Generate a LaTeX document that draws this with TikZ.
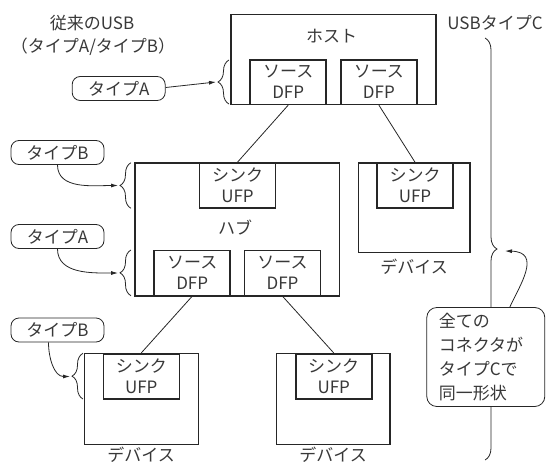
\documentclass[tikz,border=0pt]{standalone}
\usepackage{fontspec}
\setmainfont{Noto Sans CJK JP}
\usetikzlibrary{decorations.pathreplacing,arrows.meta}
\definecolor{ln}{gray}{0.15}
\definecolor{txt}{gray}{0.22}
\begin{document}
\begin{tikzpicture}[x=1pt,y=-1pt,
  every node/.style={font=\fontsize{17}{21}\selectfont, text=txt},
  outer/.style={draw=ln, line width=1.6pt, inner sep=0pt},
  innerbox/.style={draw=ln, fill=white, line width=1.6pt, minimum width=76pt, minimum height=45pt, align=center, inner sep=0pt},
  tag/.style={draw=ln, rounded corners=8pt, line width=0.8pt, minimum width=93pt, minimum height=24pt, inner sep=0pt},
  conn/.style={draw=ln, line width=0.8pt},
  br/.style={draw=ln, line width=0.8pt, decorate, decoration={brace, amplitude=#1}},
  arr/.style={draw=ln, line width=0.8pt, -{Latex[length=7pt,width=4pt]}},
]
\useasboundingbox (0,0) rectangle (554,463);

% titles
\node (t1) at (92,23) {従来のUSB};
\node (t2) at (93,47) {（タイプA/タイプB）};
\node (tc) at (495,23) {USBタイプC};

% host
\node[outer, minimum width=204.7pt, minimum height=90pt] (host) at (333.35,59.3) {};
\node (hostlbl) at (331.7,36) {ホスト};
\node[innerbox, minimum height=44.3pt] (hd1) at (288.2,82.2) {ソース\\DFP};
\node[innerbox, minimum height=44.3pt] (hd2) at (378.9,82.2) {ソース\\DFP};

% hub
\node[outer, minimum width=204.3pt, minimum height=133pt] (hub) at (237.2,229.2) {};
\node[innerbox] (hu) at (237.5,185.5) {シンク\\UFP};
\node (hublbl) at (235,228) {ハブ};
\node[innerbox] (bd1) at (192.2,272.9) {ソース\\DFP};
\node[innerbox] (bd2) at (282.5,272.9) {ソース\\DFP};

% device right
\node[outer, minimum width=111.7pt, minimum height=89.6pt] (devr) at (414.2,207.5) {};
\node[innerbox] (dru) at (415,185.5) {シンク\\UFP};
\node (devrlbl) at (414,267) {デバイス};

% device bottom left
\node[outer, minimum width=114pt, minimum height=91pt] (devl) at (141.3,398.8) {};
\node[innerbox] (dlu) at (141.3,376.2) {シンク\\UFP};
\node (devllbl) at (141,454.5) {デバイス};

% device bottom right
\node[outer, minimum width=113.3pt, minimum height=91pt] (devb) at (333.3,398.8) {};
\node[innerbox] (dbu) at (333.7,376.2) {シンク\\UFP};
\node (devblbl) at (333,454.5) {デバイス};

% connectors
\draw[conn] (hd1.south) -- (hu.north);
\draw[conn] (hd2.south) -- (dru.north);
\draw[conn] (bd1.south) -- (dlu.north);
\draw[conn] (bd2.south) -- (dbu.north);

% left braces
\draw[br=11pt] (229,104) -- (229,60);
\draw[br=11pt] (131,208.3) -- (131,162.7);
\draw[br=11pt] (131,295.7) -- (131,250);
\draw[br=11pt] (83,399) -- (83,353.3);
\coordinate (bt1) at (216,82);
\coordinate (bt2) at (118,185.5);
\coordinate (bt3) at (118,273);
\coordinate (bt4) at (70,376.5);

% tags
\node[tag] (tagA1) at (118.7,88.5) {タイプA};
\node[tag] (tagB1) at (57.5,152.5) {タイプB};
\node[tag] (tagA2) at (57.5,236.5) {タイプA};
\node[tag] (tagB2) at (57.5,330) {タイプB};

\draw[arr] ([yshift=1pt]tagA1.east) -- (bt1);
\draw[arr] (tagB1.south) to[out=-90,in=180] (bt2);
\draw[arr] (tagA2.south) to[out=-90,in=180] (bt3);
\draw[arr] ([xshift=-9pt]tagB2.south) to[out=-90,in=180] (bt4);

% right brace
\draw[br=12pt] (485,38) -- (485,460);
\coordinate (ctip) at (505,251);

% callout
\node[tag, fill=white, rounded corners=10pt, minimum width=118pt, minimum height=99pt, text width=94pt, align=left, font=\fontsize{17}{24}\selectfont] (all) at (485.8,357) {全ての\\コネクタが\\タイプCで\\同一形状};
\draw[arr] ([xshift=24pt]all.north) .. controls (520,285) and (542,252) .. (ctip);
\end{tikzpicture}
\end{document}
